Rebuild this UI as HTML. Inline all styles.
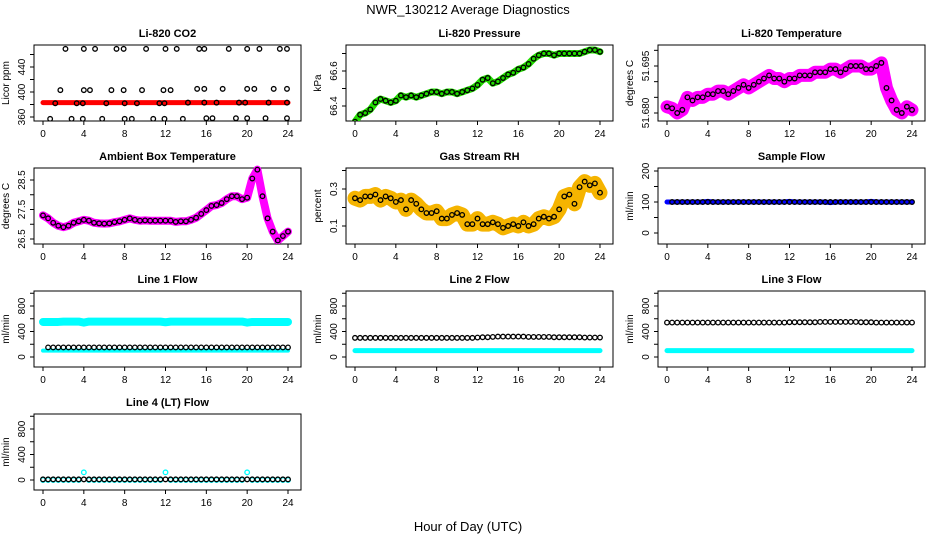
<!DOCTYPE html>
<html><head><meta charset="utf-8"><style>
body{margin:0;background:#fff;}
svg{display:block;font-family:"Liberation Sans",sans-serif;}
</style></head><body>
<svg id="c" width="936" height="540">
<text x="468" y="14" text-anchor="middle" font-size="13">NWR_130212  Average Diagnostics</text>
<text x="468" y="531" text-anchor="middle" font-size="13">Hour of Day (UTC)</text>
</svg>
<script>
const hours=[0,0.5,1,1.5,2,2.5,3,3.5,4,4.5,5,5.5,6,6.5,7,7.5,8,8.5,9,9.5,10,10.5,11,11.5,12,12.5,13,13.5,14,14.5,15,15.5,16,16.5,17,17.5,18,18.5,19,19.5,20,20.5,21,21.5,22,22.5,23,23.5,24];
const xTicks=[0,4,8,12,16,20,24];
const pressure=[66.31,66.35,66.36,66.38,66.42,66.44,66.43,66.42,66.43,66.46,66.45,66.46,66.45,66.46,66.47,66.48,66.48,66.47,66.48,66.48,66.47,66.48,66.49,66.50,66.52,66.55,66.56,66.53,66.54,66.56,66.58,66.59,66.61,66.62,66.64,66.67,66.69,66.70,66.70,66.69,66.70,66.70,66.70,66.70,66.70,66.71,66.72,66.72,66.71];
const liTemp=[51.682,51.6815,51.680,51.681,51.685,51.684,51.685,51.685,51.686,51.686,51.687,51.687,51.686,51.687,51.688,51.689,51.688,51.689,51.690,51.691,51.692,51.691,51.691,51.690,51.691,51.691,51.692,51.692,51.692,51.693,51.693,51.693,51.694,51.694,51.693,51.694,51.695,51.695,51.695,51.694,51.694,51.695,51.696,51.688,51.684,51.681,51.680,51.682,51.681];
const ambient=[27.3,27.2,27.05,26.95,26.9,26.95,27.05,27.1,27.15,27.12,27.05,27.03,27.02,27.03,27.07,27.1,27.15,27.2,27.15,27.12,27.13,27.12,27.12,27.12,27.12,27.12,27.08,27.1,27.1,27.15,27.22,27.35,27.48,27.62,27.65,27.72,27.85,27.95,27.95,27.85,27.9,28.55,28.85,27.95,27.2,26.75,26.45,26.6,26.75];
const rh=[0.25,0.24,0.26,0.26,0.27,0.24,0.26,0.25,0.23,0.24,0.19,0.24,0.22,0.19,0.17,0.17,0.18,0.14,0.14,0.16,0.17,0.16,0.11,0.11,0.14,0.11,0.11,0.12,0.11,0.09,0.10,0.11,0.10,0.12,0.10,0.11,0.14,0.15,0.14,0.15,0.19,0.26,0.27,0.22,0.31,0.34,0.32,0.33,0.28];
const co2Red=[383,383,383,383,383,383,383,383,383,383,383,383,383,383,383,383,383,383,383,383,383,383,383,383,383,383,383,383,383,383,383,383,383,383,383,383,383,383,383,383,383,383,383,383,383,383,383,383,383];
const co2Hours=[2.2,4,5.1,7.2,7.9,10.1,12,13.1,15.3,15.8,18.2,20,21.2,23.2,23.9,1.7,4,4.6,6.7,7.9,9.7,11.8,12.5,15.1,15.8,17.6,20,20.7,22.6,23.9,1.2,3.3,3.9,6.2,8,9.2,11.4,11.9,14.2,15.8,17,19.2,19.8,22.1,23.9,0.7,2.8,3.9,5.8,8,8.7,10.8,11.9,13.7,16,16.6,18.9,20,21.8,23.9];
const co2Black=[469,469,469,469,469,469,469,469,469,469,469,469,469,469,469,403,403,403,403,403,403,403,403,405,405,405,405,405,405,405,382,382,382,382,382,382,382,382,383,383,383,383,383,383,383,357,357,357,357,357,357,357,357,357,358,358,358,358,358,358];
const sampleBlue=[100,100,100,100,100,100,100,100,102,100,100,100,100,100,100,100,100,100,100,100,100,100,100,100,102,100,100,100,100,100,100,100,98,100,100,100,100,100,100,100,102,100,100,100,100,100,100,100,100];
const sampleBlack=[100,100,100,100,100,100,100,100,100,100,100,100,100,100,100,100,100,100,100,100,100,100,100,100,100,100,100,100,100,100,100,100,100,100,100,100,100,100,100,100,100,100,100,100,100,100,100,100,100];
const l1CyanHigh=[550,550,550,550,555,555,555,555,540,555,555,555,555,555,555,555,555,555,555,555,555,555,555,555,545,555,555,555,555,555,555,555,555,555,555,555,555,555,555,555,540,550,550,550,550,550,550,550,550];
const l1CyanLow=[100,100,100,100,100,100,100,100,100,100,100,100,100,100,100,100,100,100,100,100,100,100,100,100,100,100,100,100,100,100,100,100,100,100,100,100,100,100,100,100,100,100,100,100,100,100,100,100,100];
const l1Black=[150,150,150,150,150,150,150,150,150,150,150,150,150,150,150,150,150,150,150,150,150,150,150,150,150,150,150,150,150,150,150,150,150,150,150,150,150,150,150,150,150,150,150,150,150,150,150,150,150];
const l2Black=[300,300,300,300,300,300,300,300,300,300,300,300,300,300,300,300,300,300,300,300,300,300,300,300,305,310,310,315,320,320,320,320,320,320,315,315,315,315,315,310,310,310,310,310,310,305,305,305,305];
const l2Cyan=[100,100,100,100,100,100,100,100,100,100,100,100,100,100,100,100,100,100,100,100,100,100,100,100,100,100,100,100,100,100,100,100,100,100,100,100,100,100,100,100,100,100,100,100,100,100,100,100,100];
const l3Black=[540,540,540,540,540,540,540,540,540,540,540,540,540,540,540,540,540,540,540,540,540,540,540,540,545,545,545,545,545,545,550,550,550,550,550,550,550,550,545,545,545,540,540,540,540,540,540,540,540];
const l3Cyan=[100,100,100,100,100,100,100,100,100,100,100,100,100,100,100,100,100,100,100,100,100,100,100,100,100,100,100,100,100,100,100,100,100,100,100,100,100,100,100,100,100,100,100,100,100,100,100,100,100];
const l4Black=[10,10,10,10,10,10,10,10,10,10,10,10,10,10,10,10,10,10,10,10,10,10,10,10,10,10,10,10,10,10,10,10,10,10,10,10,10,10,10,10,10,10,10,10,10,10,10,10,10];
const l4Cyan=[0,0,0,0,0,0,0,0,120,0,0,0,0,0,0,0,0,0,0,0,0,0,0,0,120,0,0,0,0,0,0,0,0,0,0,0,0,0,0,0,120,0,0,0,0,0,0,0,0];

const NS="http://www.w3.org/2000/svg";
const svg=document.getElementById('c');
function mk(tag,at,parent){const e=document.createElementNS(NS,tag);for(const k in at)e.setAttribute(k,at[k]);(parent||svg).appendChild(e);return e;}
const colL=[34,346,658], rowT=[45,168,291,414], BW=267, BH=76;
function panel(col,row,title,ylab,vmin,vmax,pmin,pmax,ticks,labels){
  const L=colL[col],T=rowT[row];
  const g=mk('g',{});
  
  
  const xs=h=>L+9+h*(245/24);
  const ys=v=>pmin+(v-vmin)*(pmax-pmin)/(vmax-vmin);
  const r=mk('rect',{x:L,y:T,width:BW,height:BH,fill:'none',stroke:'#000','stroke-width':1},g);
  
  const t=mk('text',{x:L+BW/2,y:T-8,'text-anchor':'middle','font-size':11,'font-weight':'bold'},g);t.textContent=title;
  
  const yl=mk('text',{x:0,y:0,'text-anchor':'middle','font-size':10,transform:`translate(${L-25},${T+BH/2}) rotate(-90)`},g);yl.textContent=ylab;
  
  xTicks.forEach(h=>{const x=xs(h);
    const tk=mk('line',{x1:x,x2:x,y1:T+BH,y2:T+BH+4,stroke:'#000'},g);
    const tl=mk('text',{x:x,y:T+BH+16,'text-anchor':'middle','font-size':10},g);tl.textContent=h;
    });
  ticks.forEach(v=>{const y=ys(v);
    const tk=mk('line',{x1:L-4,x2:L,y1:y,y2:y,stroke:'#000'},g);});
  labels.forEach(s=>{const y=ys(parseFloat(s));
    const tl=mk('text',{x:0,y:0,'text-anchor':'middle','font-size':10,transform:`translate(${L-9},${y}) rotate(-90)`},g);tl.textContent=s;
    });
  const clip='cl'+col+row;
  const cp=mk('clipPath',{id:clip},g);mk('rect',{x:L,y:T-3,width:BW,height:BH+3},cp);
  const d=mk('g',{'clip-path':`url(#${clip})`},g);
  return {band(hs,vs,color,w,name){
      const p=mk('polyline',{points:hs.map((h,i)=>xs(h)+','+ys(vs[i])).join(' '),fill:'none',stroke:color,'stroke-width':w,'stroke-linejoin':'round','stroke-linecap':'round'},d);
      },
    pts(hs,vs,color,rad,name){const pg=mk('g',{},d);
      
      hs.forEach((h,i)=>{const c=mk('circle',{cx:xs(h),cy:ys(vs[i]),r:rad,fill:'none',stroke:color,'stroke-width':1.3},pg);
        });}};
}
let p;
p=panel(0,0,'Li-820 CO2','Licor ppm',360,440,117,67,[360,380,400,420,440,460],['360','400','440']);
p.band(hours,co2Red,'#ff0000',5,'co2-raw-band');p.pts(co2Hours,co2Black,'#000',2.3,'co2-average-points');
p=panel(1,0,'Li-820 Pressure','kPa',66.4,66.6,106,71,[66.4,66.5,66.6,66.7],['66.4','66.6']);
p.band(hours,pressure,'#22dd00',7,'pressure-raw-band');p.pts(hours,pressure,'#000',2.3,'pressure-average-points');
p=panel(2,0,'Li-820 Temperature','degrees C',51.680,51.695,113,66,[51.680,51.685,51.690,51.695,51.700],['51.680','51.695']);
p.band(hours,liTemp,'#ff00ff',13,'li820-temp-raw-band');p.pts(hours,liTemp,'#000',2.3,'li820-temp-average-points');
p=panel(0,1,'Ambient Box Temperature','degrees C',26.5,28.5,239,180,[26.5,27,27.5,28,28.5],['26.5','27.5','28.5']);
p.band(hours,ambient,'#ff00ff',8,'ambient-raw-band');p.pts(hours,ambient,'#000',2.3,'ambient-average-points');
p=panel(1,1,'Gas Stream RH','percent',0.1,0.3,226,189,[0.1,0.2,0.3,0.4],['0.1','0.3']);
p.band(hours,rh,'#f5b400',15,'rh-raw-band');p.pts(hours,rh,'#000',2.3,'rh-average-points');
p=panel(2,1,'Sample Flow','ml/min',0,200,233,171,[0,50,100,150,200],['0','100','200']);
p.band(hours,sampleBlue,'#0000ff',5,'sample-flow-raw-band');p.pts(hours.slice(1),sampleBlack.slice(1),'#000',2.3,'sample-flow-average-points');
p=panel(0,2,'Line 1 Flow','ml/min',0,800,357,306,[0,200,400,600,800,1000],['0','400','800']);
p.band(hours,l1CyanHigh,'#00ffff',8,'line1-high-band');p.band(hours,l1CyanLow,'#00ffff',4,'line1-low-band');p.pts(hours.slice(1),l1Black.slice(1),'#000',2.3,'line1-average-points');
p=panel(1,2,'Line 2 Flow','ml/min',0,800,357,306,[0,200,400,600,800,1000],['0','400','800']);
p.band(hours,l2Cyan,'#00ffff',5,'line2-raw-band');p.pts(hours,l2Black,'#000',2.3,'line2-average-points');
p=panel(2,2,'Line 3 Flow','ml/min',0,800,357,306,[0,200,400,600,800,1000],['0','400','800']);
p.band(hours,l3Cyan,'#00ffff',5,'line3-raw-band');p.pts(hours,l3Black,'#000',2.3,'line3-average-points');
p=panel(0,3,'Line 4 (LT) Flow','ml/min',0,800,480,429,[0,200,400,600,800,1000],['0','400','800']);
p.pts(hours,l4Cyan,'#00ffff',2.3,'line4-raw-points');p.pts(hours,l4Black,'#000',2.3,'line4-average-points');
</script>
</body></html>
